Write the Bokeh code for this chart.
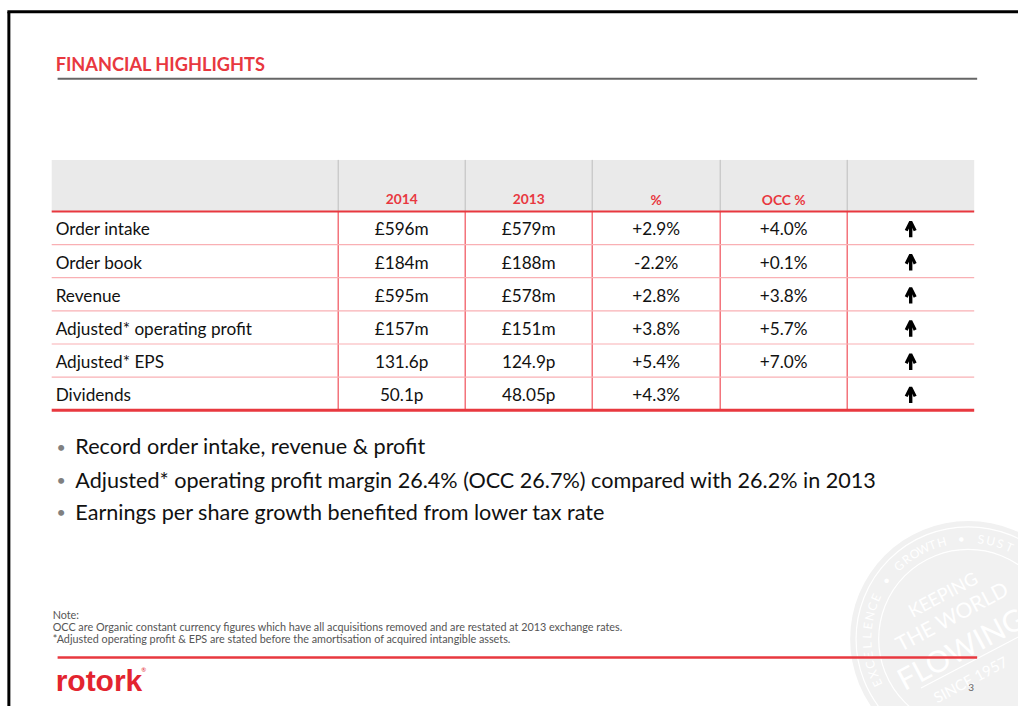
import math
from bokeh.plotting import figure
from bokeh.models import Range1d, ColumnDataSource, Arrow, OpenHead
from bokeh.core.properties import value
from bokeh.embed import file_html
from bokeh.resources import INLINE

# ---------------- data ----------------
title = "FINANCIAL HIGHLIGHTS"
column_headers = ["2014", "2013", "%", "OCC %"]
metrics = ["Order intake", "Order book", "Revenue",
           "Adjusted* operating profit", "Adjusted* EPS", "Dividends"]
values_2014 = ["£596m", "£184m", "£595m", "£157m", "131.6p", "50.1p"]
values_2013 = ["£579m", "£188m", "£578m", "£151m", "124.9p", "48.05p"]
pct_change = ["+2.9%", "-2.2%", "+2.8%", "+3.8%", "+5.4%", "+4.3%"]
occ_change = ["+4.0%", "+0.1%", "+3.8%", "+5.7%", "+7.0%", ""]
trend = ["up", "up", "up", "up", "up", "up"]
bullets = [
    "Record order intake, revenue & profit",
    "Adjusted* operating profit margin 26.4% (OCC 26.7%) compared with 26.2% in 2013",
    "Earnings per share growth benefited from lower tax rate",
]
notes = [
    "Note:",
    "OCC are Organic constant currency figures which have all acquisitions removed and are restated at 2013 exchange rates.",
    "*Adjusted operating profit & EPS are stated before the amortisation of acquired intangible assets.",
]
logo_text = "rotork"
page_number = "3"
seal_ring = "OPERATIONAL EXCELLENCE \u2022 GROWTH \u2022 SUSTAINABILITY"
seal_words = ["KEEPING", "THE WORLD", "FLOWING", "SINCE 1957"]

# ---------------- layout / style ----------------
W, H = 1018, 706          # figure size in pixels
SW, SH = 1034, 722        # slide coordinate space
FONT = "Lato"
RED = "#E8383F"
TXT = "#111111"
col_edges = [52, 343, 472, 601, 731, 860, 989]
HDR_TOP, HDR_BOT = 163, 215.7
ROW_H = 33.9

p = figure(width=W, height=H, x_range=Range1d(0, SW), y_range=Range1d(SH, 0),
           output_backend="svg", toolbar_location=None, min_border=0,
           x_axis_location=None, y_axis_location=None)
p.grid.visible = False
p.outline_line_color = None
p.background_fill_color = "white"
p.border_fill_color = "white"

# ---- watermark seal (bottom right) ----
cx, cy, R = 983, 653, 120
p.circle(x=[cx], y=[cy], radius=R, fill_color="#F1F1F1", line_color=None)
p.circle(x=[cx], y=[cy], radius=R - 6, fill_color=None, line_color="white", line_width=1.2)
p.circle(x=[cx], y=[cy], radius=R - 29, fill_color=None, line_color="white", line_width=1.2)
step = 5.6
start = 206 + seal_ring.index("EXCELLENCE") * step
rx, ry, ra, rt = [], [], [], []
for i, ch in enumerate(seal_ring):
    th = math.radians(start - i * step)
    x = cx + 103 * math.cos(th)
    y = cy - 103 * math.sin(th)
    if x > SW - 7 or y > SH - 7:
        continue
    rx.append(x)
    ry.append(y)
    ra.append(th - math.pi / 2)
    rt.append(ch)
p.text(x=rx, y=ry, text=rt, angle=ra, text_font=value(FONT), text_font_size="12px",
       text_color="white", text_align="center", text_baseline="middle")
ang = math.radians(28)
seal_pos = [(957, 607, "18px"), (966, 629, "21px"), (975, 662, "30px"), (985, 694, "15px")]
p.text(x=[s[0] for s in seal_pos], y=[s[1] for s in seal_pos], text=seal_words,
       angle=ang, text_font=value(FONT), text_font_size=[s[2] for s in seal_pos],
       text_color="white", text_align="center", text_baseline="middle")
p.segment(x0=[935], y0=[703], x1=[1045], y1=[645], line_color="white", line_width=1.2)

# ---- slide frame ----
p.segment(x0=[8.5], y0=[11.5], x1=[8.5], y1=[730], line_color="black", line_width=3)
p.segment(x0=[7], y0=[11.5], x1=[1040], y1=[11.5], line_color="black", line_width=3)

# ---- title ----
p.text(x=[56], y=[65], text=[title], text_font=value(FONT), text_font_style="bold",
       text_font_size="18.2px", text_color=RED, text_baseline="middle")
p.segment(x0=[58], y0=[80], x1=[992], y1=[80], line_color="#666666", line_width=2)

# ---- table ----
n = len(metrics)
p.quad(left=[col_edges[0]], right=[col_edges[-1]], top=[HDR_TOP], bottom=[HDR_BOT],
       fill_color="#EAEAEA", line_color=None)
inner = col_edges[1:-1]
p.segment(x0=inner, y0=[HDR_TOP] * len(inner), x1=inner, y1=[HDR_BOT] * len(inner),
          line_color="#BDBDBD", line_width=1)
body_bot = HDR_BOT + n * ROW_H
p.segment(x0=inner, y0=[HDR_BOT] * len(inner), x1=inner, y1=[body_bot] * len(inner),
          line_color="#F0505A", line_width=1.2)
sep_y = [HDR_BOT + (i + 1) * ROW_H for i in range(n - 1)]
p.segment(x0=[col_edges[0]] * len(sep_y), y0=sep_y, x1=[col_edges[-1]] * len(sep_y), y1=sep_y,
          line_color="#F9B0B4", line_width=1.2)
p.segment(x0=[col_edges[0]], y0=[HDR_BOT], x1=[col_edges[-1]], y1=[HDR_BOT],
          line_color=RED, line_width=2)
p.segment(x0=[col_edges[0]], y0=[body_bot], x1=[col_edges[-1]], y1=[body_bot],
          line_color=RED, line_width=3)

centers = [(col_edges[k] + col_edges[k + 1]) / 2 for k in range(len(col_edges) - 1)]
p.text(x=centers[1:5], y=[203.5] * 4, text=column_headers, text_font=value(FONT),
       text_font_style="bold", text_font_size="13.8px", text_color=RED,
       text_align="center", text_baseline="middle")

row_y = [HDR_BOT + (i + 0.5) * ROW_H + 1 for i in range(n)]
p.text(x=[56] * n, y=row_y, text=metrics, text_font=value(FONT), text_font_size="17.2px",
       text_color=TXT, text_baseline="middle")
for k, col in enumerate([values_2014, values_2013, pct_change, occ_change]):
    p.text(x=[centers[k + 1]] * n, y=row_y, text=col, text_font=value(FONT),
           text_font_size="17.2px", text_color=TXT, text_align="center", text_baseline="middle")

ay0 = [y + 8.5 if t == "up" else y - 8.5 for y, t in zip(row_y, trend)]
ay1 = [y - 7.5 if t == "up" else y + 7.5 for y, t in zip(row_y, trend)]
arrow_src = ColumnDataSource(dict(x=[centers[5]] * n, y0=ay0, y1=ay1))
p.add_layout(Arrow(end=OpenHead(size=9, line_width=3.2, line_color="black"),
                   x_start="x", y_start="y0", x_end="x", y_end="y1", source=arrow_src,
                   line_width=3.4, line_color="black"))

# ---- bullets ----
by = [456, 490, 523]
p.text(x=[57] * len(bullets), y=by, text=["\u2022"] * len(bullets), text_font=value(FONT),
       text_font_size="16px", text_color="#808080", text_baseline="middle")
p.text(x=[76] * len(bullets), y=by, text=bullets, text_font=value(FONT),
       text_font_size="21.6px", text_color=TXT, text_baseline="middle")

# ---- notes ----
p.text(x=[53] * len(notes), y=[628, 640, 652], text=notes, text_font=value(FONT),
       text_font_size="10.8px", text_color="#555555", text_baseline="middle")

# ---- footer ----
p.segment(x0=[58], y0=[672], x1=[992], y1=[672], line_color=RED, line_width=2.5)
p.text(x=[56], y=[695], text=[logo_text], text_font=value("Liberation Sans"),
       text_font_style="bold", text_font_size="30px", text_color="#E3242F",
       text_baseline="middle")
p.text(x=[143], y=[684], text=["\u00ae"], text_font=value(FONT), text_font_size="6px",
       text_color="#E3242F", text_baseline="middle")
p.text(x=[986], y=[703], text=[page_number], text_font=value(FONT), text_font_size="10px",
       text_color="#666666", text_align="center", text_baseline="middle")

open("out.html", "w").write(file_html(p, INLINE))
